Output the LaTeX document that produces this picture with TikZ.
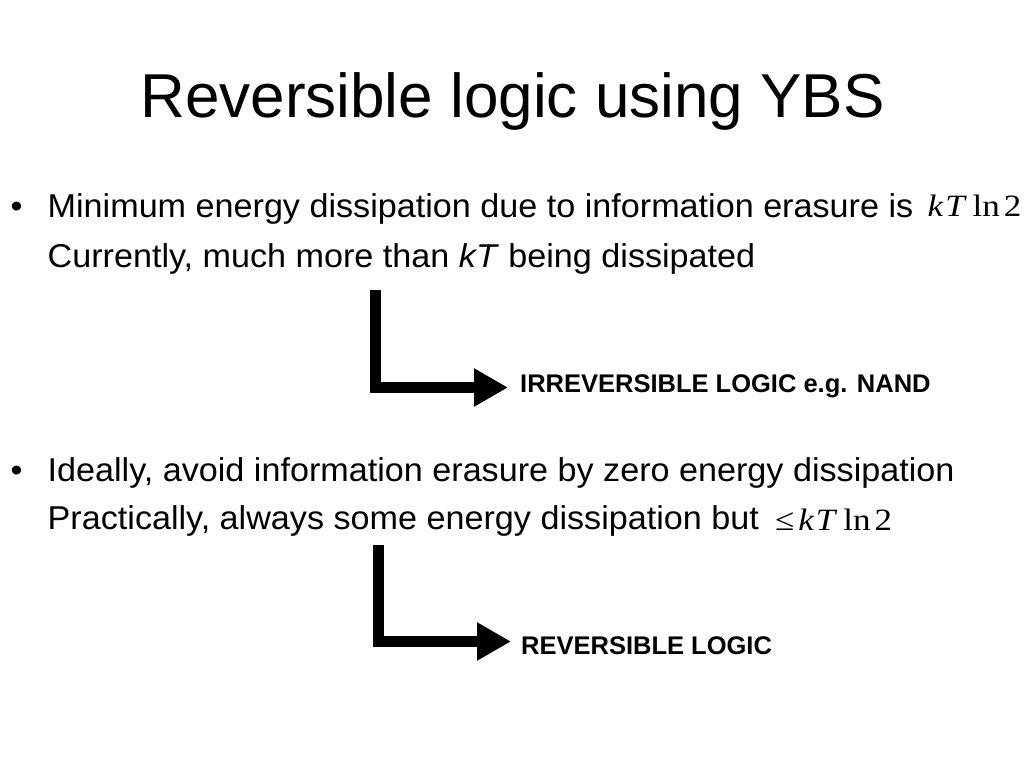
\documentclass[tikz,border=0pt]{standalone}
\usepackage{fontspec}
\setmainfont{Liberation Sans}
\newfontfamily\bodyfont[FakeStretch=1.035]{Liberation Sans}
\newfontfamily\mfont[FakeStretch=1.13]{Liberation Serif}
\usetikzlibrary{arrows.meta}
\newcommand{\kTlnTwo}{{\itshape k\hspace{2pt}T}\hspace{8pt}ln\hspace{4pt}2}
\tikzset{
  txt/.style={anchor=base west, inner sep=0pt, font=\fontsize{33}{36}\bodyfont},
  mathtxt/.style={anchor=base west, inner sep=0pt, font=\fontsize{31}{33}\mfont},
  lab/.style={anchor=base west, inner sep=0pt, font=\fontsize{25.5}{28}\selectfont\bfseries},
  bigarrow/.style={line width=11.5pt, line join=miter, -{Triangle[length=34pt,width=36pt]}},
}
\begin{document}
\begin{tikzpicture}[x=1pt,y=-1pt]
\useasboundingbox (0,0) rectangle (1024,768);
\node[anchor=base, inner sep=0pt, font=\fontsize{62}{66}\selectfont] (title) at (512.5,117.7) {Reversible logic using YBS};
% bullet 1
\node[txt] (bul1) at (10.5,217) {•};
\node[txt] (l1a) at (47.5,217) {Minimum energy dissipation due to information erasure is};
\node[mathtxt] (m1) at (927.5,216) {\kTlnTwo};
\node[txt] (l1b) at (47.5,267.7) {Currently, much more than \textit{kT} being dissipated};
% arrow 1
\coordinate (a1) at (375.5,290);
\coordinate (a1end) at (508,387.5);
\node[lab] (lab1) at (520,392.7) {IRREVERSIBLE LOGIC e.g. NAND};
\draw[bigarrow] (a1) |- (a1end);
% bullet 2
\node[txt] (bul2) at (10.5,481.7) {•};
\node[txt] (l2a) at (47.5,481.7) {Ideally, avoid information erasure by zero energy dissipation};
\node[txt] (l2b) at (47.5,529) {Practically, always some energy dissipation but};
\node[mathtxt] (m2) at (775,530) {≤\hspace{4pt}\kTlnTwo};
% arrow 2
\coordinate (a2) at (378.5,545);
\coordinate (a2end) at (511,641.5);
\node[lab] (lab2) at (521,654.3) {REVERSIBLE LOGIC};
\draw[bigarrow] (a2) |- (a2end);
\end{tikzpicture}
\end{document}
